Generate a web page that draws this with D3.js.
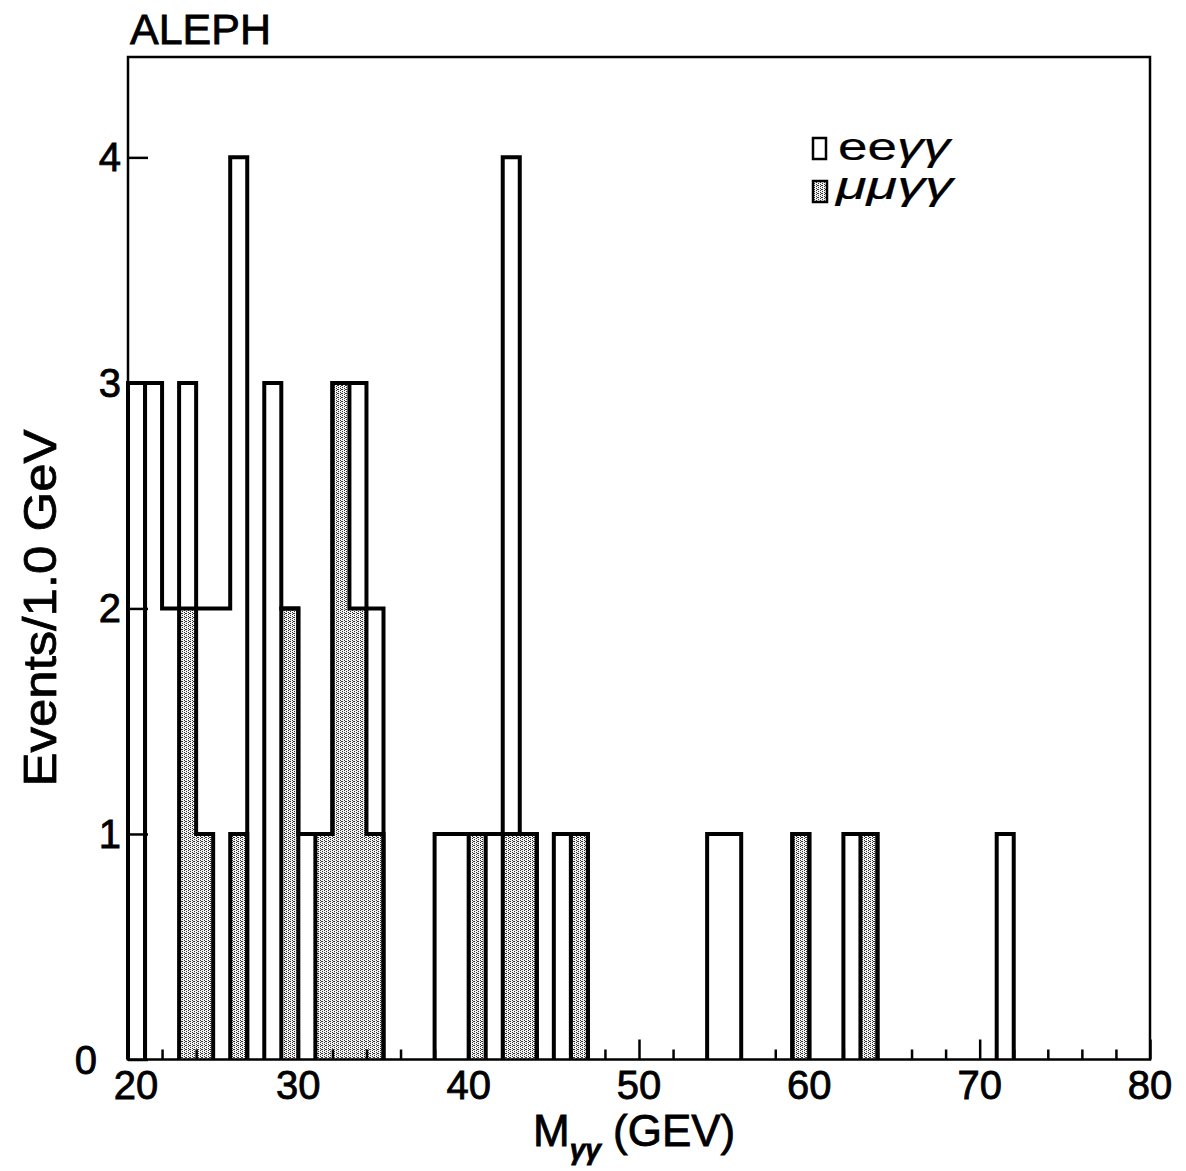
<!DOCTYPE html>
<html lang="en">
<head>
<meta charset="UTF-8">
<title>ALEPH M_gg</title>
<script src="https://d3js.org/d3.v7.min.js"></script>
<style>
  body { margin: 0; background: #fff; }
  text { font-family: "Liberation Sans", Arial, sans-serif; fill: #000; stroke: #000; stroke-width: 0.8; }
  text.legend { stroke-width: 0.2; }
</style>
</head>
<body>
<script>
// lower bin edges (1 GeV bins)
var binLo = d3.range(20, 80);
// all events (ee + mumu), per bin from 20 GeV
var totalEvents = [3,3,2,3,2,2,4,0,3,2, 1,1,3,3,2,0,0,0,1,1, 1,1,4,1,0,1,1,0,0,0,
                   0,0,0,0,1,1,0,0,0,1, 0,0,1,1,0,0,0,0,0,0, 0,1,0,0,0,0,0,0,0,0];
// mumu events, per bin
var mumuEvents  = [0,0,0,2,1,0,1,0,0,2, 0,1,3,2,1,0,0,0,0,0, 1,0,1,1,0,0,1,0,0,0,
                   0,0,0,0,0,0,0,0,0,1, 0,0,0,1,0,0,0,0,0,0, 0,0,0,0,0,0,0,0,0,0];
// places where the outline is drawn as separate boxes
var outlineBreaks = [21];
var xTicks = [20, 30, 40, 50, 60, 70, 80];
var yTicks = [0, 1, 2, 3, 4];

(function(){
    var W = 1186, H = 1171;
    var m = { left: 128, right: 1150, top: 57, bottom: 1059.5 };

    var svg = d3.select("body").append("svg")
        .attr("width", W).attr("height", H);

    var x = d3.scaleLinear().domain([20, 80]).range([m.left, m.right]);
    var y = d3.scaleLinear().domain([0, 4.445]).range([m.bottom, m.top]);

    var defs = svg.append("defs");
    var pat = defs.append("pattern")
        .attr("id", "dots").attr("patternUnits", "userSpaceOnUse")
        .attr("width", 4).attr("height", 4);
    pat.append("rect").attr("width", 4).attr("height", 4).attr("fill", "#f4f4f4");
    [[0,0],[2,1],[0,2],[2,3],[1,1]].forEach(function(p){
        pat.append("rect").attr("x", p[0]).attr("y", p[1])
            .attr("width", 1).attr("height", 1).attr("fill", "#333");
    });

    // split a histogram into runs of non-empty bins
    function runs(counts, breaks) {
        var out = [], cur = null;
        counts.forEach(function(c, i) {
            var lo = binLo[i];
            if (c > 0 && cur && breaks.indexOf(lo) < 0) {
                cur.push([lo, c]);
            } else if (c > 0) {
                cur = [[lo, c]];
                out.push(cur);
            } else {
                cur = null;
            }
        });
        return out;
    }
    function stepPath(run) {
        var p = d3.path();
        p.moveTo(x(run[0][0]), y(0));
        run.forEach(function(b) {
            p.lineTo(x(b[0]), y(b[1]));
            p.lineTo(x(b[0] + 1), y(b[1]));
        });
        p.lineTo(x(run[run.length - 1][0] + 1), y(0));
        return p.toString();
    }

    // mumu shaded
    svg.append("g").selectAll("path")
        .data(runs(mumuEvents, []))
        .enter().append("path")
        .attr("d", stepPath)
        .attr("fill", "url(#dots)")
        .attr("stroke", "#000").attr("stroke-width", 4);

    // total outline
    svg.append("g").selectAll("path")
        .data(runs(totalEvents, outlineBreaks))
        .enter().append("path")
        .attr("d", stepPath)
        .attr("fill", "none")
        .attr("stroke", "#000").attr("stroke-width", 4);

    // frame
    svg.append("rect")
        .attr("x", m.left).attr("y", m.top)
        .attr("width", m.right - m.left).attr("height", m.bottom - m.top)
        .attr("fill", "none").attr("stroke", "#000").attr("stroke-width", 2.5);

    // x ticks (inside)
    var gx = svg.append("g").attr("transform", "translate(0," + m.bottom + ")")
        .call(d3.axisTop(x).tickValues(d3.range(20, 81, 2)).tickSize(10).tickFormat(""));
    gx.select(".domain").remove();
    gx.selectAll(".tick line")
        .attr("stroke-width", 2.5)
        .attr("y2", function(d){ return d % 10 === 0 ? -20 : -10; });

    svg.append("g").selectAll("text")
        .data(xTicks).enter().append("text")
        .attr("x", function(d){ return x(d) + (d === 20 ? 8 : 0); })
        .attr("y", 1099)
        .attr("text-anchor", "middle")
        .attr("font-size", 40)
        .text(function(d){ return d; });

    // y ticks (inside)
    var gy = svg.append("g").attr("transform", "translate(" + m.left + ",0)")
        .call(d3.axisRight(y).tickValues(yTicks).tickSize(20).tickFormat(""));
    gy.select(".domain").remove();
    gy.selectAll(".tick line").attr("stroke-width", 2.5);

    svg.append("g").selectAll("text")
        .data(yTicks).enter().append("text")
        .attr("x", function(d){ return d === 0 ? 97 : 121; })
        .attr("y", function(d){ return y(d) + 14; })
        .attr("text-anchor", "end")
        .attr("font-size", 40)
        .text(function(d){ return d; });

    // titles
    svg.append("text")
        .attr("x", 130).attr("y", 44)
        .attr("font-size", 43)
        .text("ALEPH");

    svg.append("text")
        .attr("transform", "translate(56,608) rotate(-90)")
        .attr("text-anchor", "middle")
        .attr("font-size", 47)
        .attr("textLength", 357).attr("lengthAdjust", "spacingAndGlyphs")
        .text("Events/1.0 GeV");

    var xt = svg.append("text")
        .attr("x", 533).attr("y", 1146)
        .attr("font-size", 44);
    xt.append("tspan").text("M");
    xt.append("tspan").attr("font-size", 28).attr("font-style", "italic")
        .attr("font-weight", "bold").attr("dy", 13).text("γγ");
    xt.append("tspan").attr("dy", -13).text(" (GEV)");

    // legend
    svg.append("rect")
        .attr("x", 813).attr("y", 138).attr("width", 13).attr("height", 21)
        .attr("fill", "#fff").attr("stroke", "#000").attr("stroke-width", 2.5);
    var l1 = svg.append("text").attr("class", "legend")
        .attr("x", 838).attr("y", 160).attr("font-size", 38)
        .attr("textLength", 112).attr("lengthAdjust", "spacingAndGlyphs");
    l1.append("tspan").text("ee");
    l1.append("tspan").attr("font-style", "italic").text("γγ");

    svg.append("rect")
        .attr("x", 813).attr("y", 181).attr("width", 14).attr("height", 21)
        .attr("fill", "url(#dots)").attr("stroke", "#000").attr("stroke-width", 2.5);
    svg.append("text").attr("class", "legend")
        .attr("x", 836).attr("y", 199).attr("font-size", 38)
        .attr("textLength", 117).attr("lengthAdjust", "spacingAndGlyphs")
        .attr("font-style", "italic").text("μμγγ");
})();
</script>
</body>
</html>
